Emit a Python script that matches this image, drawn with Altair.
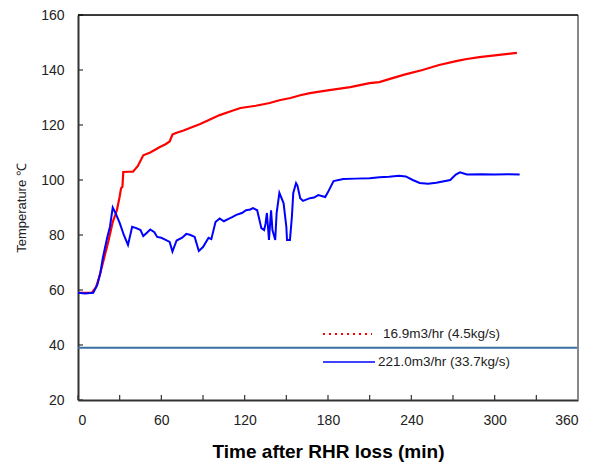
import altair as alt
import pandas as pd

# Red series: 16.9 m3/hr (4.5 kg/s)
red_t = [0, 10, 13, 16, 19, 22, 25, 28, 30, 31, 32, 32.6, 36, 39.6, 43, 47, 52, 59, 63, 66, 68, 70,
         76, 81, 88, 95, 102, 110, 117, 128, 138, 145, 153, 160, 167, 175, 181, 196, 210, 217, 224,
         235, 248, 260, 273, 280, 289, 300, 308, 316]
red_v = [59, 59, 61, 66, 72, 78, 84.7, 89, 94, 97, 97.5, 102.9, 103, 103, 105, 109, 110, 112, 113, 114,
         116.5, 117, 118, 119, 120.4, 122, 123.6, 125, 126.2, 127, 128, 129, 129.8, 130.8, 131.6, 132.2,
         132.7, 133.8, 135.2, 135.6, 136.7, 138.3, 140, 141.8, 143.3, 144, 144.7, 145.3, 145.8, 146.2]

# Blue series: 221.0 m3/hr (33.7 kg/s)
blue_t = [0, 5, 11, 14, 16, 18, 21, 23, 25, 27, 30, 33, 36, 39, 42, 45, 47, 50, 52, 55, 57, 60, 62,
          66, 68, 71, 75, 78, 81, 84, 87, 90, 94, 96, 99, 102, 105, 108, 111, 114, 118, 121, 124, 126,
          129, 131, 132, 134, 135, 136, 137.5, 139, 140, 142, 143, 145, 148, 150, 150.5, 152.6, 154,
          155, 157, 158, 160, 162, 167, 170, 173, 178, 180, 184, 191, 200, 210, 217, 224, 231, 236,
          241, 246, 252, 258, 268, 272, 275, 280, 290, 300, 310, 318]
blue_v = [59, 58.7, 59, 62, 66, 72, 79, 83, 90, 88, 84.4, 80, 76.4, 83, 82.5, 81.8, 79.6, 81, 82, 81,
          79.3, 79, 78.5, 77.5, 74, 78, 79, 80.4, 80, 79.3, 74.2, 75.6, 79, 78.5, 84.7, 86, 85, 85.8,
          86.5, 87.3, 88, 89, 89.3, 89.8, 89, 84.7, 82.5, 81.8, 84, 88, 78.2, 89, 81.8, 78.2, 88, 95.3,
          91.6, 83, 78.2, 78.2, 86.6, 95.3, 98.9, 98, 93.4, 92.4, 93.4, 93.6, 94.5, 93.8, 95.6, 99.6,
          100.4, 100.5, 100.6, 101, 101.2, 101.5, 101.3, 100, 98.9, 98.6, 99, 100, 102, 102.8, 102,
          102.1, 102, 102.1, 102]

ref_level = 39
x_ticks = [0, 60, 120, 180, 240, 300, 360]
x_minor = [0, 30, 60, 90, 120, 150, 180, 210, 240, 270, 300, 330, 360]
y_ticks = [20, 40, 60, 80, 100, 120, 140, 160]
legend_labels = ["16.9m3/hr (4.5kg/s)", "221.0m3/hr (33.7kg/s)"]

FONT = "Liberation Sans"
W, H = 500, 385

xs = alt.Scale(domain=[0, 360], nice=False, zero=False)
ys = alt.Scale(domain=[20, 160], nice=False, zero=False)

red_df = pd.DataFrame({"t": red_t, "v": red_v})
blue_df = pd.DataFrame({"t": blue_t, "v": blue_v})

base_x = alt.X("t:Q", scale=xs, axis=alt.Axis(values=x_ticks, title="Time after RHR loss (min)",
                                              ticks=False, grid=False, labelFontSize=14,
                                              labelColor="#222", labelFont=FONT, labelPadding=13,
                                              titleFont=FONT, titleFontSize=19, titleFontWeight="bold",
                                              titleColor="#000", titlePadding=15,
                                              domainColor="#333", domainWidth=2))
base_y = alt.Y("v:Q", scale=ys, axis=alt.Axis(values=y_ticks, title="Temperature ℃",
                                              ticks=False, grid=False, labelFontSize=14,
                                              labelColor="#222", labelFont=FONT, labelPadding=14,
                                              titleFont=FONT, titleFontSize=13, titleFontWeight="normal",
                                              titleColor="#222", titlePadding=12,
                                              domainColor="#333", domainWidth=2))

red_line = alt.Chart(red_df).mark_line(color="#ff0000", strokeWidth=2.2).encode(
    x=base_x, y=base_y)
blue_line = alt.Chart(blue_df).mark_line(color="#0000ff", strokeWidth=2).encode(
    x=alt.X("t:Q", scale=xs), y=alt.Y("v:Q", scale=ys))

hline = alt.Chart(pd.DataFrame({"v": [ref_level]})).mark_rule(color="#3a6ea5", strokeWidth=2).encode(
    y=alt.Y("v:Q", scale=ys))

xt = alt.Chart(pd.DataFrame({"t": x_minor})).mark_rule(color="#333", strokeWidth=1.2).encode(
    x=alt.X("t:Q", scale=xs), y=alt.value(H), y2=alt.value(H - 5))
yt = alt.Chart(pd.DataFrame({"v": y_ticks})).mark_rule(color="#333", strokeWidth=1.2).encode(
    y=alt.Y("v:Q", scale=ys), x=alt.value(0), x2=alt.value(5))

right_border = alt.Chart(pd.DataFrame({"t": [360]})).mark_rule(color="#888", strokeWidth=2).encode(
    x=alt.X("t:Q", scale=xs), y=alt.value(0), y2=alt.value(H))
top_border = alt.Chart(pd.DataFrame({"v": [160]})).mark_rule(color="#000", strokeWidth=1.5).encode(
    y=alt.Y("v:Q", scale=ys))

leg_red = alt.Chart(pd.DataFrame({"a": [0]})).mark_rule(color="#ff0000", strokeWidth=2,
                                                        strokeDash=[2, 4]).encode(
    x=alt.value(245), x2=alt.value(294), y=alt.value(319))
leg_blue = alt.Chart(pd.DataFrame({"a": [0]})).mark_rule(color="#0000ff", strokeWidth=1.5).encode(
    x=alt.value(245), x2=alt.value(297), y=alt.value(347))
leg_t1 = alt.Chart(pd.DataFrame({"s": [legend_labels[0]]})).mark_text(
    align="left", baseline="middle", font=FONT, fontSize=13.5, color="#222").encode(
    x=alt.value(305), y=alt.value(319), text="s:N")
leg_t2 = alt.Chart(pd.DataFrame({"s": [legend_labels[1]]})).mark_text(
    align="left", baseline="middle", font=FONT, fontSize=13.5, color="#222").encode(
    x=alt.value(300), y=alt.value(347), text="s:N")

chart = alt.layer(red_line, blue_line, hline, xt, yt, right_border, top_border,
                  leg_red, leg_blue, leg_t1, leg_t2).properties(
    width=W, height=H, autosize=alt.AutoSizeParams(type="none"),
    padding={"left": 70, "top": 7, "right": 10, "bottom": 66}
).configure_view(stroke=None).configure(background="white")

chart.save("out.html", embed_options={"renderer": "svg", "actions": False})
